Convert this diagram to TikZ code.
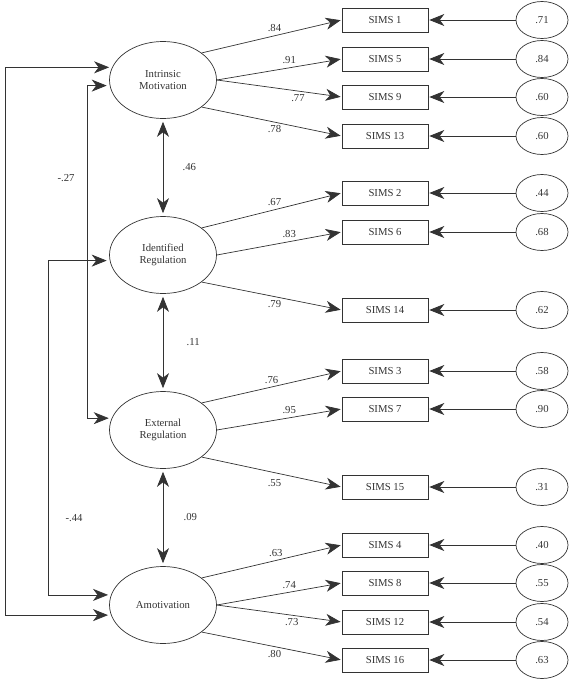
\documentclass[tikz,border=0pt]{standalone}
\usepackage{fontspec}
\setmainfont{Liberation Serif}
\usetikzlibrary{arrows.meta,shapes.geometric}

\begin{document}
\begin{tikzpicture}[x=1pt,y=-1pt,->,>={Stealth[length=15pt,width=12pt,inset=4.5pt]},
                    shorten >=1pt,line width=0.7pt,draw=black!80,text=black!80,
                    font=\fontsize{10.7}{12.5}\selectfont,node distance=175pt,
                    latent/.style={ellipse,draw,minimum width=107pt,minimum height=77pt,
                                   inner sep=0pt,align=center},
                    item/.style={rectangle,draw,minimum width=86pt,minimum height=24pt,inner sep=0pt},
                    error/.style={ellipse,draw,minimum width=52pt,minimum height=37pt,
                                  inner sep=0pt,node distance=157pt}]
  \useasboundingbox (0,0) rectangle (571,685);

  \node[latent] (IM) at (163,80)     {Intrinsic\\Motivation};
  \node[latent] (IR) [below of=IM]   {Identified\\Regulation};
  \node[latent] (ER) [below of=IR]   {External\\Regulation};
  \node[latent] (AM) [below of=ER]   {Amotivation};

  \node[item] (S1)  at (385,20)  {SIMS 1};
  \node[item] (S5)  at (385,59)  {SIMS 5};
  \node[item] (S9)  at (385,97)  {SIMS 9};
  \node[item] (S13) at (385,136) {SIMS 13};
  \node[item] (S2)  at (385,193) {SIMS 2};
  \node[item] (S6)  at (385,232) {SIMS 6};
  \node[item] (S14) at (385,310) {SIMS 14};
  \node[item] (S3)  at (385,371) {SIMS 3};
  \node[item] (S7)  at (385,409) {SIMS 7};
  \node[item] (S15) at (385,487) {SIMS 15};
  \node[item] (S4)  at (385,545) {SIMS 4};
  \node[item] (S8)  at (385,583) {SIMS 8};
  \node[item] (S12) at (385,622) {SIMS 12};
  \node[item] (S16) at (385,660) {SIMS 16};

  \node[error] (E1)  [right of=S1]  {.71};
  \node[error] (E5)  [right of=S5]  {.84};
  \node[error] (E9)  [right of=S9]  {.60};
  \node[error] (E13) [right of=S13] {.60};
  \node[error] (E2)  [right of=S2]  {.44};
  \node[error] (E6)  [right of=S6]  {.68};
  \node[error] (E14) [right of=S14] {.62};
  \node[error] (E3)  [right of=S3]  {.58};
  \node[error] (E7)  [right of=S7]  {.90};
  \node[error] (E15) [right of=S15] {.31};
  \node[error] (E4)  [right of=S4]  {.40};
  \node[error] (E8)  [right of=S8]  {.55};
  \node[error] (E12) [right of=S12] {.54};
  \node[error] (E16) [right of=S16] {.63};

  % loadings
  \path (IM.35)  edge node[above,pos=.52] {.84} (S1.west)
        (IM.east) edge node[above,pos=.58] {.91} (S5.west)
                  edge node[below,pos=.65] {.77} (S9.west)
        (IM.-35) edge node[below,pos=.52] {.78} (S13.west)
        (IR.35)  edge node[above,pos=.52] {.67} (S2.west)
        (IR.east) edge node[above,pos=.58] {.83} (S6.west)
        (IR.-35) edge node[below,pos=.52] {.79} (S14.west)
        (ER.35)  edge node[above,pos=.50] {.76} (S3.west)
        (ER.east) edge node[above,pos=.58] {.95} (S7.west)
        (ER.-35) edge node[below=3pt,pos=.52] {.55} (S15.west)
        (AM.35)  edge node[above,pos=.53] {.63} (S4.west)
        (AM.east) edge node[above,pos=.58] {.74} (S8.west)
                  edge node[below,pos=.60] {.73} (S12.west)
        (AM.-35) edge node[below,pos=.52] {.80} (S16.west);

  % errors
  \path (E1) edge (S1)   (E5) edge (S5)   (E9) edge (S9)   (E13) edge (S13)
        (E2) edge (S2)   (E6) edge (S6)   (E14) edge (S14)
        (E3) edge (S3)   (E7) edge (S7)   (E15) edge (S15)
        (E4) edge (S4)   (E8) edge (S8)   (E12) edge (S12) (E16) edge (S16);

  % correlations
  \draw[<->,shorten <=3pt,shorten >=3pt] (IM) -- node[right=16pt] {.46} (IR);
  \draw[<->,shorten <=3pt,shorten >=3pt] (IR) -- node[right=20pt] {.11} (ER);
  \draw[<->,shorten <=3pt,shorten >=3pt] (ER) -- node[right=17pt] {.09} (AM);
  \draw[<->,shorten <=3pt,shorten >=3pt] (IM.166) -- ++(-107,0) |- (AM.191);
  \draw[<->,shorten <=3pt,shorten >=3pt] (IM.186) -- ++(-22,0) |- (ER.167);
  \draw[<->,shorten <=3pt,shorten >=3pt] (IR.186) -- ++(-61,0) |- (AM.169);
  \node (r27) at (66,178) {-.27};
  \node (r44) at (74,518) {-.44};
\end{tikzpicture}
\end{document}
